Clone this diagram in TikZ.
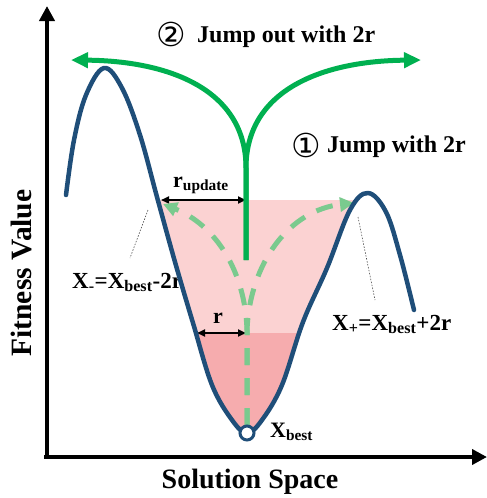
\documentclass[tikz,border=0pt]{standalone}
\usepackage{fontspec}
\setmainfont{Liberation Serif}
\newfontfamily\circfont{DejaVu Sans}
\usetikzlibrary{arrows.meta}
\definecolor{navy}{RGB}{31,78,121}
\definecolor{jumpgreen}{RGB}{0,176,80}
\definecolor{softgreen}{RGB}{122,202,142}
\definecolor{lightpink}{RGB}{251,210,210}
\definecolor{darkpink}{RGB}{246,172,174}
\tikzset{
  axisline/.style={line width=4pt, -{Triangle[length=15pt,width=15pt]}},
  jumpline/.style={jumpgreen, line width=5pt, -{Triangle[length=17pt,width=15pt]}},
  trialline/.style={softgreen, line width=5pt, dash pattern=on 17pt off 13pt, -{Triangle[length=14pt,width=14pt]}},
  radarrow/.style={line width=1.8pt, {Triangle[length=8pt,width=7pt]}-{Triangle[length=8pt,width=7pt]}},
  leader/.style={line width=0.6pt, dash pattern=on 1.5pt off 1.5pt, black!70},
  landscape/.style={navy, line width=4.5pt, line cap=round, line join=round},
  lbl/.style={inner sep=0pt, font=\bfseries\fontsize{23}{27}\selectfont},
  biglbl/.style={inner sep=0pt, font=\bfseries\fontsize{28}{32}\selectfont},
  jumplbl/.style={inner sep=0pt, font=\bfseries\fontsize{24}{28}\selectfont},
  circlbl/.style={inner sep=0pt, font=\circfont\fontsize{33}{36}\selectfont}
}
\begin{document}
\begin{tikzpicture}[x=1pt,y=-1pt]
\useasboundingbox (0,0) rectangle (487,498);

% pink regions clipped to the valley
\begin{scope}
  \clip plot[smooth, tension=0.6] coordinates {(122,88) (140,135) (157,197) (175,262) (193,323) (212,385) (232,420) (247,433) (262,420) (282,385) (303,322) (327,268) (350,210) (368,193) (386,212) (400,255)} -- (400,60) -- (122,60) -- cycle;
  \fill[lightpink] (150,200) rectangle (357,333);
  \fill[darkpink] (150,333) rectangle (357,445);
\end{scope}

% named points
\coordinate (origin) at (47,457);
\coordinate (ytip) at (47,6);
\coordinate (xstart) at (44,457);
\coordinate (xtip) at (487,457);
\coordinate (stem) at (246,260);
\coordinate (cusp) at (246,168);
\coordinate (outL) at (71,60);
\coordinate (outR) at (421,60);
\coordinate (trialS) at (247,425);
\coordinate (trialM) at (247,330);
\coordinate (trialL) at (163,204);
\coordinate (trialR) at (354,203);
\coordinate (rupL) at (161,200);
\coordinate (rupR) at (246,200);
\coordinate (rL) at (197,333);
\coordinate (rR) at (246,333);
\coordinate (ldA) at (148,210);
\coordinate (ldB) at (130,258);
\coordinate (rdA) at (358,217);
\coordinate (rdB) at (375,300);

% axes
\draw[axisline] (origin) -- (ytip);
\draw[axisline] (xstart) -- (xtip);

% radius arrows
\draw[radarrow] (rupL) -- (rupR);
\draw[radarrow] (rL) -- (rR);

% dashed trial jumps
\draw[trialline] (trialS) -- (trialM) .. controls (245,270) and (215,225) .. (trialL);
\draw[trialline] (trialS) -- (trialM) .. controls (250,262) and (290,210) .. (trialR);

% jump out
\draw[jumpline] (stem) -- (cusp) .. controls (246,90) and (170,61) .. (outL);
\draw[jumpline] (stem) -- (cusp) .. controls (246,90) and (322,61) .. (outR);

% leaders
\draw[leader] (ldA) -- (ldB);
\draw[leader] (rdA) -- (rdB);

% texts
\node[biglbl, rotate=90, font=\bfseries\fontsize{29.5}{33}\selectfont] (ylabel) at (21,273) {Fitness Value};
\node[biglbl, anchor=base] (xlabel) at (250,488) {Solution Space};
\node[circlbl] (two) at (171,34) {②};
\node[jumplbl, anchor=base west] (jumpout) at (197,42) {Jump out with 2r};
\node[circlbl] (one) at (306,145) {①};
\node[jumplbl, anchor=base west] (jump) at (327,152) {Jump with 2r};
\node[lbl, anchor=base west, font=\bfseries\fontsize{22}{26}\selectfont] (rupdate) at (173,187) {r\textsubscript{update}};
\node[lbl, font=\bfseries\fontsize{22}{26}\selectfont] (rlabel) at (218,318) {r};
\node[lbl, anchor=base west] (xminus) at (72,288) {X\textsubscript{-}=X\textsubscript{best}-2r};
\node[lbl, anchor=base west] (xplus) at (332,330) {X\textsubscript{+}=X\textsubscript{best}+2r};
\node[lbl, anchor=base west, font=\bfseries\fontsize{22}{26}\selectfont] (xbest) at (270,437) {X\textsubscript{best}};

% landscape
\draw[landscape] plot[smooth, tension=0.6] coordinates {(66,195) (74,140) (86,95) (104,68) (122,88) (140,135) (157,197) (175,262) (193,323) (212,385) (232,420) (247,433) (262,420) (282,385) (303,322) (327,268) (350,210) (368,193) (386,212) (400,255) (414,310)};
\node[circle, draw=navy, line width=3pt, fill=white, minimum size=14pt, inner sep=0pt] (best) at (247,433) {};
\end{tikzpicture}
\end{document}
